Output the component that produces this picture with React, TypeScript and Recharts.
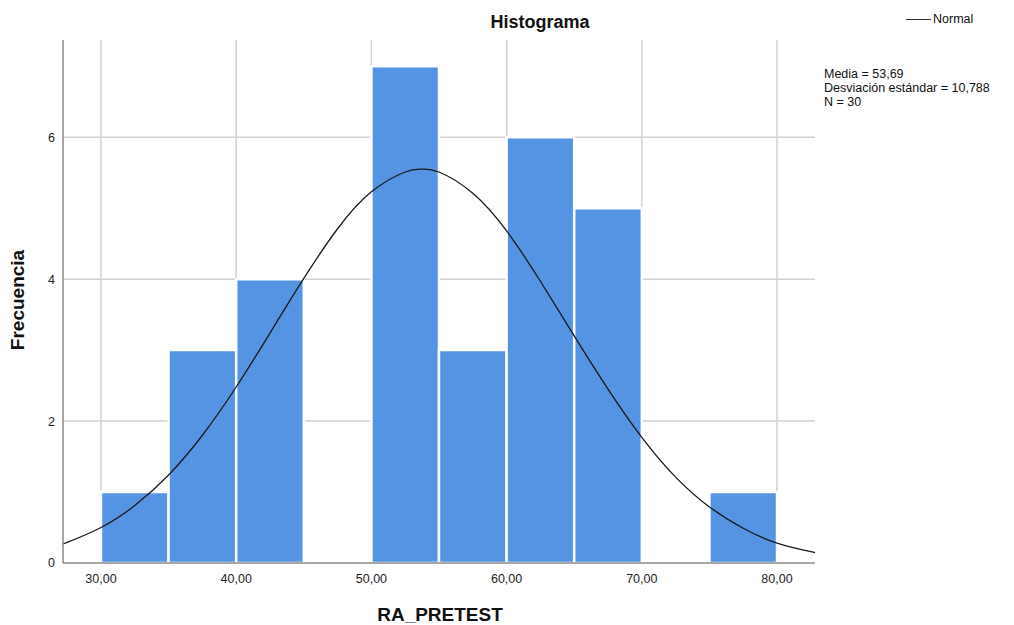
import {
  CartesianGrid,
  ComposedChart,
  Line,
  ReferenceArea,
  XAxis,
  YAxis
} from "recharts";

// histogram bins (RA_PRETEST), width 5
const binStart = [30, 35, 40, 45, 50, 55, 60, 65, 70, 75];
const binCount = [1, 3, 4, 0, 7, 3, 6, 5, 0, 1];

// normal curve
const curveX = [27.19, 27.5, 30, 32.5, 35, 37.5, 40, 42.5, 45, 47.5, 50, 52.5, 53.69, 55, 57.5, 60, 62.5, 65, 67.5, 70, 72.5, 75, 77.5, 80, 82.5, 82.81];
const curveY = [0.27, 0.29, 0.5, 0.81, 1.24, 1.8, 2.48, 3.24, 4.01, 4.71, 5.23, 5.51, 5.55, 5.51, 5.21, 4.68, 3.97, 3.2, 2.45, 1.77, 1.21, 0.79, 0.49, 0.28, 0.16, 0.15];

const xTicks = [30, 40, 50, 60, 70, 80];
const yTicks = [0, 2, 4, 6];
const xDomain: [number, number] = [27.19, 82.81];
const yDomain: [number, number] = [0, 7.37];

const curveData = curveX.map((x, i) => ({ x, normal: curveY[i] }));

const font = "'Liberation Sans', Arial, sans-serif";

// grid only at the tick values (no frame at top / right)
const gridRows = ({ offset }: any) =>
  yTicks
    .filter((t) => t > 0)
    .map((t) => offset.top + offset.height * (1 - (t - yDomain[0]) / (yDomain[1] - yDomain[0])));
const gridCols = ({ offset }: any) =>
  xTicks.map((t) => offset.left + (offset.width * (t - xDomain[0])) / (xDomain[1] - xDomain[0]));

export default function App() {
  return (
    <div style={{ position: "absolute", left: 0, top: 0, width: 1014, height: 625, background: "#fff", fontFamily: font }}>
      <ComposedChart
        width={1014}
        height={625}
        data={curveData}
        margin={{ top: 40, right: 199, bottom: 32, left: 13 }}
      >
        <CartesianGrid
          stroke="#d2d2d2"
          strokeWidth={1.5}
          horizontalCoordinatesGenerator={gridRows}
          verticalCoordinatesGenerator={gridCols}
        />
        <XAxis
          type="number"
          dataKey="x"
          domain={xDomain}
          ticks={xTicks}
          allowDataOverflow
          tickLine={false}
          axisLine={{ stroke: "#8a8a8a", strokeWidth: 1.5 }}
          tick={{ fontSize: 12.5, fill: "#222", fontFamily: font }}
          tickFormatter={(v: number) => v.toFixed(2).replace(".", ",")}
          height={30}
          tickMargin={5}
        />
        <YAxis
          type="number"
          domain={yDomain}
          ticks={yTicks}
          allowDataOverflow
          tickLine={false}
          axisLine={{ stroke: "#8a8a8a", strokeWidth: 1.5 }}
          tick={{ fontSize: 12.5, fill: "#222", fontFamily: font }}
          width={50}
          tickMargin={2}
        />
        {binStart.map((lo, i) =>
          binCount[i] > 0 ? (
            <ReferenceArea
              key={lo}
              x1={lo}
              x2={lo + 5}
              y1={0}
              y2={binCount[i]}
              fill="#5593e3"
              fillOpacity={1}
              stroke="#ffffff"
              strokeWidth={2.5}
              ifOverflow="hidden"
            />
          ) : null
        )}
        <Line
          type="natural"
          dataKey="normal"
          stroke="#1a1a1a"
          strokeWidth={1.3}
          dot={false}
          isAnimationActive={false}
        />
      </ComposedChart>
      <div style={{ position: "absolute", left: 440, top: 12, width: 200, textAlign: "center", fontSize: 18, fontWeight: "bold", color: "#111" }}>
        Histograma
      </div>
      <div style={{ position: "absolute", left: 440, top: 604, width: 0, display: "flex", justifyContent: "center", fontSize: 19, fontWeight: "bold", color: "#111", whiteSpace: "nowrap" }}>
        RA_PRETEST
      </div>
      <div style={{ position: "absolute", left: 18, top: 300, width: 0, height: 0, display: "flex", alignItems: "center", justifyContent: "center" }}>
        <div style={{ transform: "rotate(-90deg)", fontSize: 19, fontWeight: "bold", color: "#111", whiteSpace: "nowrap" }}>Frecuencia</div>
      </div>
      <div style={{ position: "absolute", left: 906, top: 12, display: "flex", alignItems: "center", fontSize: 12.5, color: "#111" }}>
        <div style={{ width: 25, height: 0, borderTop: "1.5px solid #333", marginRight: 2 }} />
        Normal
      </div>
      <div style={{ position: "absolute", left: 824, top: 67, fontSize: 12.5, lineHeight: "14px", color: "#111" }}>
        <div>Media = 53,69</div>
        <div>Desviación estándar = 10,788</div>
        <div>N = 30</div>
      </div>
    </div>
  );
}
